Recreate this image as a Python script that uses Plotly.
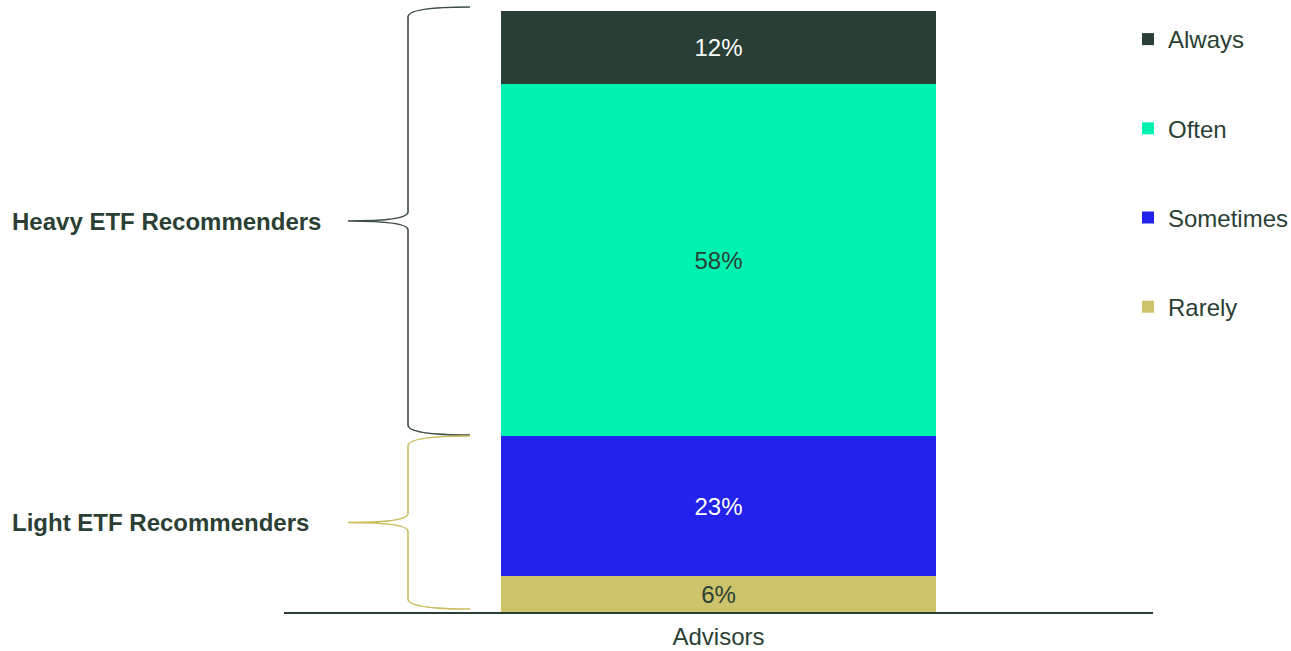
import plotly.graph_objects as go

# ---- data ----
category = ["Advisors"]
series_names = ["Rarely", "Sometimes", "Often", "Always"]
series_values = [6, 23, 58, 12]
series_colors = ["#cdc36a", "#2222ea", "#00f2b1", "#293e34"]
label_colors = ["#2b3f35", "#ffffff", "#2b3f35", "#ffffff"]
groups = [
    {"name": "Heavy ETF Recommenders", "members": ["Often", "Always"], "color": "#3e4e47"},
    {"name": "Light ETF Recommenders", "members": ["Rarely", "Sometimes"], "color": "#c9be5c"},
]

FONT = "Arial, 'Liberation Sans', sans-serif"
DARK = "#2b3f35"

W, H = 1291, 651
ML, MR, MT, MB = 284, 138, 6, 39
HEADROOM_PX = 5  # space above the bar inside the plot area (room for the brace tip)
plot_w = W - ML - MR
plot_h = H - MT - MB
total = sum(series_values)
ppu = (plot_h - HEADROOM_PX) / total  # pixels per data unit
y_top = plot_h / ppu

fig = go.Figure()
n_series = len(series_names)
for i, (name, val, col, lcol) in enumerate(zip(series_names, series_values, series_colors, label_colors)):
    fig.add_trace(go.Bar(
        x=category, y=[val], name=name,
        marker=dict(color=col, line=dict(width=0)),
        width=0.5,
        text=[f"{val}%"], textposition="inside", insidetextanchor="middle",
        textangle=0, constraintext="none",
        textfont=dict(color=lcol, size=24, family=FONT),
        legendgroup=name,
        legendrank=1000 + (n_series - i),
        hoverinfo="skip",
    ))

def px2paper_x(px):
    return (px - ML) / plot_w

# brace geometry (pixels)
X_END, X_SPINE, X_TIP = 470, 408, 348
END_CURVE, MID_CURVE = 10, 9

cum = {}
acc = 0
for n, v in zip(series_names, series_values):
    cum[n] = (acc, acc + v)
    acc += v

pads = {"Heavy ETF Recommenders": (0.15, 0.66), "Light ETF Recommenders": (0.5, 0.0)}

shapes = []
annotations = []
for g in groups:
    lo = min(cum[m][0] for m in g["members"])
    hi = max(cum[m][1] for m in g["members"])
    plo, phi = pads[g["name"]]
    yl, yh = lo + plo, hi + phi
    ym = (yl + yh) / 2
    ce = END_CURVE / ppu
    cm = MID_CURVE / ppu
    xe, xs, xt = px2paper_x(X_END), px2paper_x(X_SPINE), px2paper_x(X_TIP)
    path = (f"M {xe},{yh} Q {xs},{yh} {xs},{yh-ce} L {xs},{ym+cm} "
            f"Q {xs},{ym} {xt},{ym} Q {xs},{ym} {xs},{ym-cm} "
            f"L {xs},{yl+ce} Q {xs},{yl} {xe},{yl}")
    shapes.append(dict(type="path", path=path, xref="paper", yref="y",
                       line=dict(color=g["color"], width=1.6)))
    annotations.append(dict(text=f"<b>{g['name']}</b>", x=px2paper_x(10), y=ym,
                            xref="paper", yref="y", xanchor="left", yanchor="middle",
                            showarrow=False, font=dict(size=24, color=DARK, family=FONT)))

fig.update_layout(
    width=W, height=H,
    margin=dict(l=ML, r=MR, t=MT, b=MB, autoexpand=False),
    barmode="stack",
    plot_bgcolor="white", paper_bgcolor="white",
    font=dict(family=FONT, color=DARK, size=24),
    showlegend=True,
    legend=dict(x=px2paper_x(1128), xanchor="left", y=(plot_h - 11) / plot_h, yanchor="top",
                traceorder="grouped", tracegroupgap=55,
                font=dict(size=24, color=DARK, family=FONT),
                bgcolor="rgba(0,0,0,0)"),
    xaxis=dict(range=[-0.5, 0.5], showline=True, linecolor=DARK, linewidth=2,
               showgrid=False, zeroline=False, ticks="", ticklabelstandoff=2,
               tickfont=dict(size=24, color=DARK, family=FONT), fixedrange=True),
    yaxis=dict(range=[0, y_top], visible=False, showgrid=False, zeroline=False),
    shapes=shapes,
    annotations=annotations,
    bargap=0,
)

fig.write_html("out.html")
